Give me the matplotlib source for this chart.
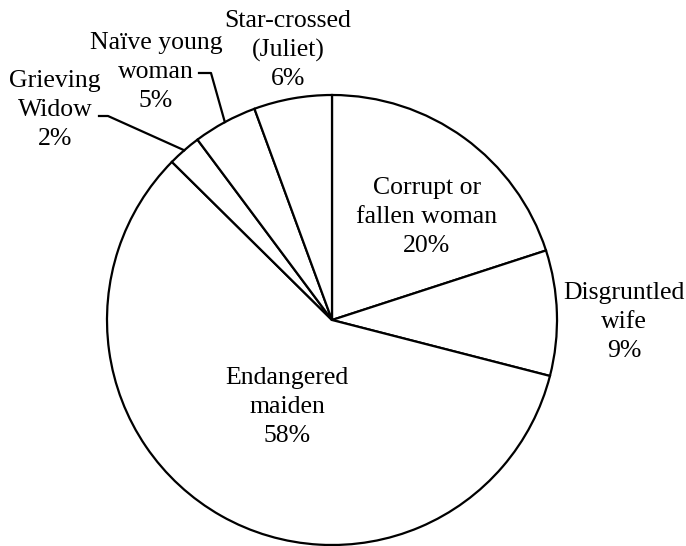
import numpy as np
import matplotlib
matplotlib.use("Agg")
import matplotlib.pyplot as plt

# Datos del gráfico (porcentajes)
nombres = ["Corrupt or\nfallen woman", "Disgruntled\nwife", "Endangered\nmaiden",
           "Grieving\nWidow", "Naïve young\nwoman", "Star-crossed\n(Juliet)"]
valores = [20.0, 9.0, 58.4, 2.4, 4.6, 5.6]

plt.rcParams['font.family'] = ['Liberation Serif', 'DejaVu Serif']

W, H = 686, 546
fig = plt.figure(figsize=(W / 100, H / 100), dpi=100)
ax = fig.add_axes([0, 0, 1, 1])

def py(y):
    # convertir coordenada de píxel (arriba->abajo) a datos
    return H - y

centro = (332, py(320))
radio = 225
wedges, _ = ax.pie(valores, startangle=90, counterclock=False, center=centro,
                   radius=radio, frame=True,
                   wedgeprops=dict(facecolor='white', edgecolor='black', linewidth=1.6))

ax.set_xlim(0, W)
ax.set_ylim(0, H)
ax.set_aspect('equal')
ax.axis('off')

total = sum(valores)
textos = [f"{n}\n{v / total * 100:.0f}%" for n, v in zip(nombres, valores)]

# posiciones de las etiquetas (píxeles)
posiciones = [(427, 217), (624, 322), (287, 407), (55, 110), (156, 72), (288, 50)]
for t, (x, y) in zip(textos, posiciones):
    ax.text(x, py(y), t, ha='center', va='center', multialignment='center',
            fontsize=18.5, linespacing=1.4)

# líneas guía para las porciones pequeñas
guias = {3: [(108, 116), (99, 116)], 4: [(211, 73), (199, 73)]}
for i, puntos in guias.items():
    w = wedges[i]
    ang = np.deg2rad((w.theta1 + w.theta2) / 2)
    x0 = centro[0] + radio * np.cos(ang)
    y0 = centro[1] + radio * np.sin(ang)
    xs = [x0] + [p[0] for p in puntos]
    ys = [y0] + [py(p[1]) for p in puntos]
    ax.plot(xs, ys, color='black', linewidth=1.6)

fig.savefig("out.png", dpi=100)
